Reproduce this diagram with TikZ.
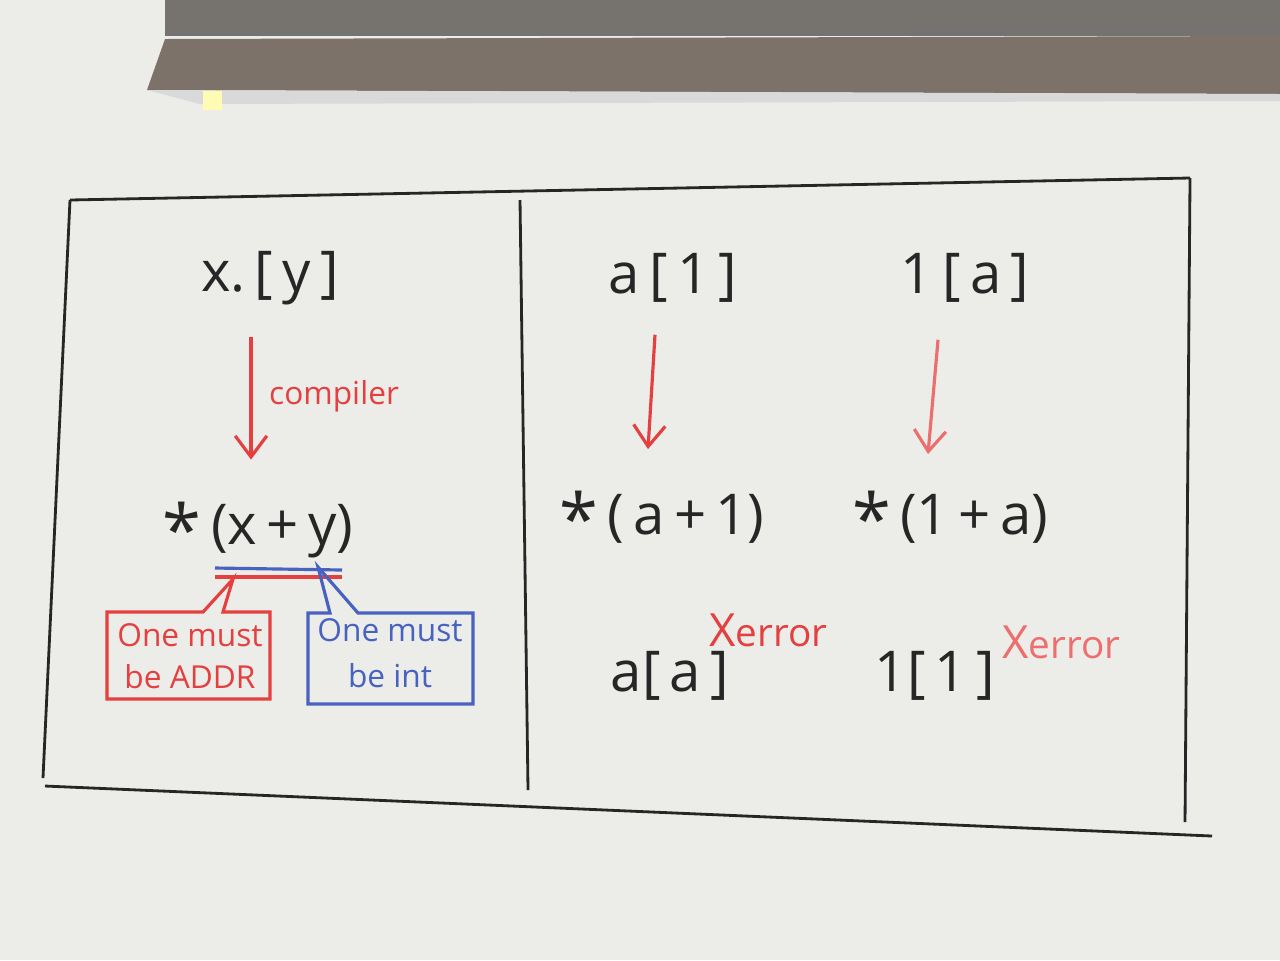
\documentclass[tikz,border=0pt]{standalone}
\usepackage{fontspec}
\setmainfont{Open Sans}
\usetikzlibrary{arrows.meta,calc}

\definecolor{inkblack}{RGB}{38,38,38}
\definecolor{inkred}{RGB}{228,64,64}
\definecolor{inkpink}{RGB}{236,110,110}
\definecolor{inkblue}{RGB}{72,98,192}
\definecolor{board}{RGB}{236,236,233}
\definecolor{housing}{RGB}{118,114,110}
\definecolor{ledge}{RGB}{124,114,105}

\tikzset{
  expr/.style={text=inkblack, inner sep=1pt, font=\fontsize{16}{18}\selectfont},
  note/.style={inner sep=1pt, align=center, font=\fontsize{9}{10}\selectfont},
  errmark/.style={text=inkred, inner sep=1pt, anchor=west, font=\fontsize{11}{12}\selectfont},
  pen/.style={inkblack, line width=0.8pt},
  redpen/.style={inkred, line width=0.9pt},
  bluepen/.style={inkblue, line width=0.9pt},
  maparrow/.style={redpen, -{Straight Barb[length=6pt,width=9pt]}},
}
\newcommand{\deref}{\raisebox{-0.35ex}{\fontsize{20}{20}\selectfont *}}

\begin{document}
\begin{tikzpicture}[x=0.01cm,y=-0.01cm]
  \useasboundingbox (0,0) rectangle (1280,960);
  \fill[board] (0,0) rectangle (1280,960);

  % housing above the board
  \fill[housing] (165,0) rectangle (1280,36);
  \draw[black!55, line width=1pt] (165,34) -- (1280,31);
  \fill[ledge] (165,39) -- (1280,36) -- (1280,94) -- (147,90) -- cycle;
  \fill[black!15] (147,90) -- (1280,94) -- (1280,101) -- (200,104) -- cycle;
  \fill[yellow!30!white] (203,91) rectangle (222,110);

  % frame
  \coordinate (tl) at (70,200);
  \coordinate (tr) at (1190,178);
  \coordinate (bl) at (43,778);
  \coordinate (br) at (1185,822);
  \draw[pen] (tl) -- (tr);
  \draw[pen] (tl) -- (bl);
  \draw[pen] (tr) -- (br);
  \draw[pen] (45,786) -- (1212,836);
  \draw[pen] (520,200) -- (528,790);

  % left panel
  \node[expr] (xy) at (270,278) {x.\,[\,y\,]};
  \node[expr] (xplusy) at (258,530) {\deref\,(x\,+\,y)};
  \draw[maparrow] ($(xy.south)+(-19,28)$) -- ($(xplusy.north)+(-7,-38)$);
  \node[note, anchor=west, text=inkred] (comp) at (265,396) {compiler};

  \coordinate (ublue0) at (215,568);
  \coordinate (ublue1) at (342,570);
  \coordinate (ured0) at (215,577);
  \coordinate (ured1) at (342,577);
  \draw[bluepen] (ublue0) -- (ublue1);
  \draw[redpen, line width=1.3pt] (ured0) -- (ured1);

  \draw[redpen] (107,612) -- (203,612) -- (233,579) -- (223,612) -- (270,612)
    -- (270,699) -- (107,699) -- cycle;
  \draw[bluepen] (308,613) -- (330,613) -- (318,567) -- (358,613) -- (473,613)
    -- (473,704) -- (308,704) -- cycle;
  \node[note, text=inkred] (addr) at (190,656) {One must\\[2pt]be ADDR};
  \node[note, text=inkblue] (int) at (390,653) {One must\\[3pt]be int};

  % right panel
  \node[expr] (aone) at (673,278) {a\,[\,1\,]};
  \node[expr] (onea) at (965,278) {1\,[\,a\,]};
  \node[expr] (aplus) at (662,518) {\deref\,(\,a\,+\,1)};
  \node[expr] (oneplus) at (950,518) {\deref\,(1\,+\,a)};
  \draw[maparrow] ($(aone.south)+(-18,28)$) -- ($(aplus.north)+(-14,-38)$);
  \draw[maparrow, inkpink] ($(onea.south)+(-27,33)$) -- ($(oneplus.north)+(-22,-33)$);

  \node[expr] (aa) at (670,676) {a[\,a\,]};
  \node[expr] (oneone) at (935,676) {1[\,1\,]};
  \node[errmark] (erra) at (705,630) {{\fontsize{13}{13}\selectfont X}error};
  \node[errmark, text=inkpink] (errone) at (998,642) {{\fontsize{13}{13}\selectfont X}error};
\end{tikzpicture}
\end{document}
